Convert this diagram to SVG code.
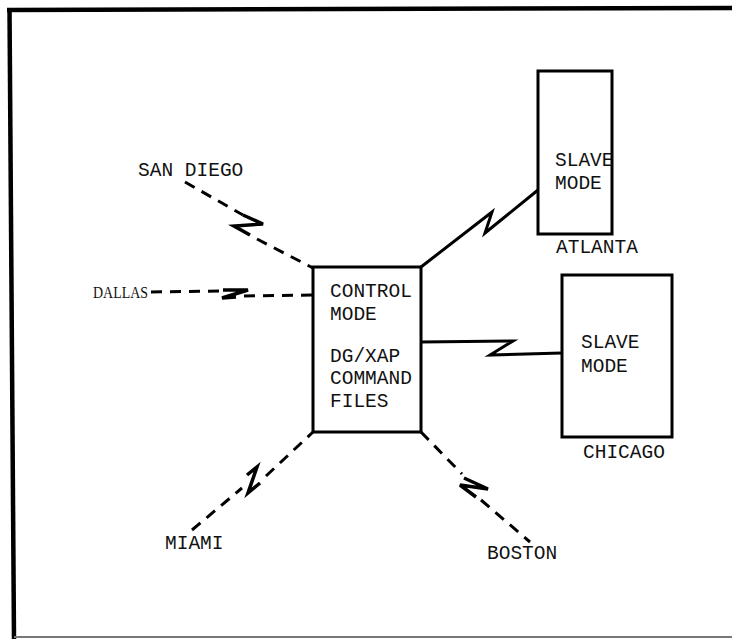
<svg xmlns="http://www.w3.org/2000/svg" width="732" height="639" viewBox="0 0 732 639">
<style>
.frame{fill:none;stroke:#000;stroke-width:4.5}
.box{fill:#fff;stroke:#000;stroke-width:3}
.solid{fill:none;stroke:#000;stroke-width:3;stroke-linejoin:miter}
.dash{fill:none;stroke:#000;stroke-width:3;stroke-dasharray:11 8}
.z{fill:none;stroke:#000;stroke-width:3.5;stroke-linejoin:miter}
.t{font-family:"Liberation Mono","Courier New",monospace;font-size:19.5px;fill:#111}
.ts{font-family:"Liberation Serif","Times New Roman",serif;font-size:16px;fill:#111}
</style>
<rect x="0" y="0" width="732" height="639" fill="#fff"/>
<g id="frame">
<line class="frame" x1="7" y1="10" x2="732" y2="8"/>
<line class="frame" x1="9.5" y1="8" x2="14" y2="639"/>
<line x1="14" y1="637" x2="732" y2="637" stroke="#777" stroke-width="2"/>
</g>
<g id="connectors">
<line class="dash" x1="185" y1="182" x2="243" y2="215"/>
<polyline class="z" points="243,215 263,224 234,226 250,235"/>
<line class="dash" x1="257" y1="239" x2="313" y2="268"/>
<line class="dash" x1="151" y1="292" x2="220" y2="291"/>
<polyline class="z" points="223,290 248,290 222,298 236,297"/>
<line class="dash" x1="244" y1="296" x2="313" y2="295"/>
<line class="dash" x1="192" y1="530" x2="242" y2="488"/>
<polyline class="z" points="247,475 257,467 248,493 260,483"/>
<line class="dash" x1="266" y1="476" x2="313" y2="432"/>
<line class="dash" x1="421" y1="432" x2="462" y2="474"/>
<polyline class="z" points="464,478 488,489 460,485 476,497"/>
<line class="dash" x1="481" y1="500" x2="530" y2="542"/>
<polyline class="solid" points="421,267 492,212 485,233 538,190"/>
<polyline class="solid" points="421,342 513,341 490,355 562,353"/>
</g>
<g id="control">
<rect class="box" x="313" y="267" width="108" height="165"/>
<text class="t" x="330" y="297">CONTROL</text>
<text class="t" x="330" y="320">MODE</text>
<text class="t" x="330" y="362">DG/XAP</text>
<text class="t" x="330" y="384">COMMAND</text>
<text class="t" x="330" y="407">FILES</text>
</g>
<g id="atlanta">
<rect class="box" x="538" y="71" width="74" height="163"/>
<text class="t" x="555" y="166">SLAVE</text>
<text class="t" x="555" y="189">MODE</text>
<text class="t" x="556" y="253">ATLANTA</text>
</g>
<g id="chicago">
<rect class="box" x="562" y="275" width="110" height="162"/>
<text class="t" x="581" y="348">SLAVE</text>
<text class="t" x="581" y="372">MODE</text>
<text class="t" x="583" y="458">CHICAGO</text>
</g>
<g id="san-diego"><text class="t" x="138" y="176">SAN DIEGO</text></g>
<g id="dallas"><text class="ts" x="93" y="298" textLength="55" lengthAdjust="spacingAndGlyphs">DALLAS</text></g>
<g id="miami"><text class="t" x="165" y="549">MIAMI</text></g>
<g id="boston"><text class="t" x="487" y="559">BOSTON</text></g>
</svg>
